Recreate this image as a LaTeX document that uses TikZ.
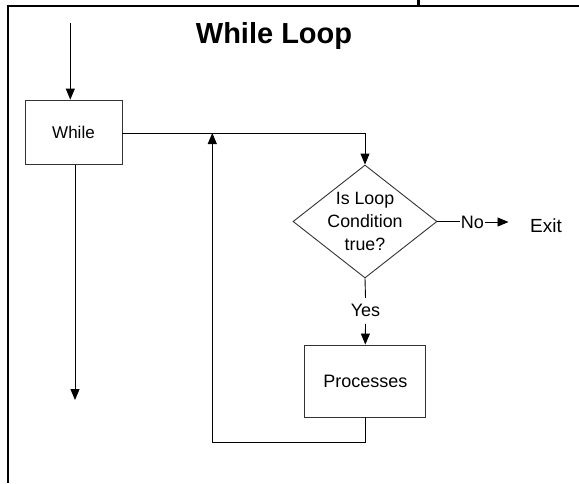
\documentclass[tikz,border=0pt]{standalone}
\usepackage{fontspec}
\setmainfont{Liberation Sans}
\usetikzlibrary{arrows.meta,shapes.geometric}
\begin{document}
\begin{tikzpicture}[x=1pt,y=-1pt,
  conn/.style={line width=0.9pt,draw=black},
  arr/.style={conn,-{Triangle[width=9pt,length=11pt]}},
  boxnode/.style={draw=black!80,line width=0.9pt,rectangle,inner sep=0pt,
    font=\fontsize{17}{20}\selectfont},
  dianode/.style={draw=black!80,line width=0.9pt,diamond,inner sep=0pt},
  lbl/.style={inner sep=1pt,font=\fontsize{18}{22}\selectfont}]
\useasboundingbox (0,0) rectangle (579,483);
% frame
\draw[line width=2.3pt] (7.7,483) -- (7.7,5.7) -- (579,5.7);
\draw[line width=2.5pt] (418.5,0) -- (418.5,5.7);
% title
\node[anchor=base,inner sep=0pt,font=\fontsize{29}{34}\selectfont\bfseries] (title) at (274,43) {While Loop};
% nodes
\node[boxnode,minimum width=97pt,minimum height=64.5pt] (while) at (73.5,132.3) {While};
\node[dianode,minimum width=144pt,minimum height=113pt] (cond) at (365,221.5) {};
\node[align=center,inner sep=0pt,font=\fontsize{17.8}{23}\selectfont] (condtext) at (cond.center) {Is Loop\\Condition\\true?};
\node[lbl] (no) at (472.5,222.5) {No};
\node[anchor=base,inner sep=1pt,font=\fontsize{19}{22}\selectfont] (exit) at (546,232.5) {Exit};
\node[lbl,inner ysep=6.5pt] (yes) at (365.5,310.8) {Yes};
\node[boxnode,font=\fontsize{18}{22}\selectfont,minimum width=121pt,minimum height=72pt] (proc) at (365.3,381) {Processes};
% coordinates
\coordinate (in) at (70.3,23);
\coordinate (outend) at (75,400);
\coordinate (exitarrow) at (508.5,222);
\coordinate (join) at (212.3,133);
% connectors
\draw[arr] (in) -- (in |- while.north);
\draw[arr] (while.south -| outend) -- (outend);
\draw[arr] (while.east |- join) -| (cond.north);
\draw[conn] (cond.east) -- (no.west |- cond.east);
\draw[arr] (no.east |- exitarrow) -- (exitarrow);
\draw[conn] (cond.south) -- (yes.north);
\draw[arr] (yes.south) -- (proc.north);
\draw[arr] (proc.south) -- ++(0,25.3) -| (join);
\end{tikzpicture}
\end{document}
